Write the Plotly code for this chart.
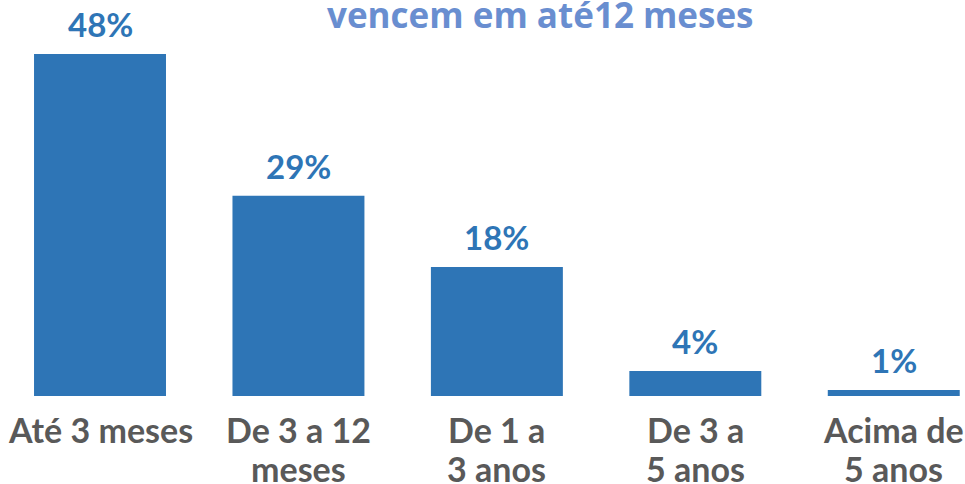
import plotly.graph_objects as go

categories = ["Até 3 meses", "De 3 a 12<br>meses", "De 1 a<br>3 anos", "De 3 a<br>5 anos", "Acima de<br>5 anos"]
values = [48.0, 28.1, 18.1, 3.5, 0.85]
value_labels = ["48%", "29%", "18%", "4%", "1%"]
title_text = "vencem em até12 meses"

BAR = "#2E75B6"
GRAY = "#595959"
TITLE = "#698ED0"
FONT = "Lato"

fig = go.Figure()
fig.add_trace(go.Bar(
    x=list(range(len(categories))), y=values,
    marker=dict(color=BAR, line=dict(width=0)),
    hoverinfo="skip",
))

ann = []
for i, (v, t) in enumerate(zip(values, value_labels)):
    ann.append(dict(x=i, y=v, xref="x", yref="y", text=f"<b>{t}</b>",
                    showarrow=False, yanchor="middle", yshift=30,
                    font=dict(family=FONT, size=33, color=BAR)))
for i, c in enumerate(categories):
    for j, line in enumerate(c.split("<br>")):
        ann.append(dict(x=i, y=0, xref="x", yref="paper", text=f"<b>{line}</b>",
                        showarrow=False, yanchor="middle", yshift=-33 - 39 * j,
                        font=dict(family=FONT, size=34, color=GRAY)))
ann.append(dict(x=540 / 965, y=(484 - 14 - 88) / 396, xref="paper", yref="paper",
                text=f"<b>{title_text}</b>",
                showarrow=False, xanchor="center", yanchor="middle",
                font=dict(family="Open Sans", size=35, color=TITLE)))

fig.update_layout(
    width=965, height=484,
    margin=dict(l=0, r=0, t=0, b=88),
    paper_bgcolor="white", plot_bgcolor="white",
    bargap=0.335,
    showlegend=False,
    xaxis=dict(range=[-0.504, 4.359], showticklabels=False, showgrid=False,
               zeroline=False, showline=False, ticks=""),
    yaxis=dict(range=[0, 55.58], showticklabels=False, showgrid=False,
               zeroline=False, showline=False, ticks=""),
    annotations=ann,
)
fig.write_html("out.html", config={"displayModeBar": False},
               post_script="document.body.style.margin='0';document.body.style.overflow='hidden';")
